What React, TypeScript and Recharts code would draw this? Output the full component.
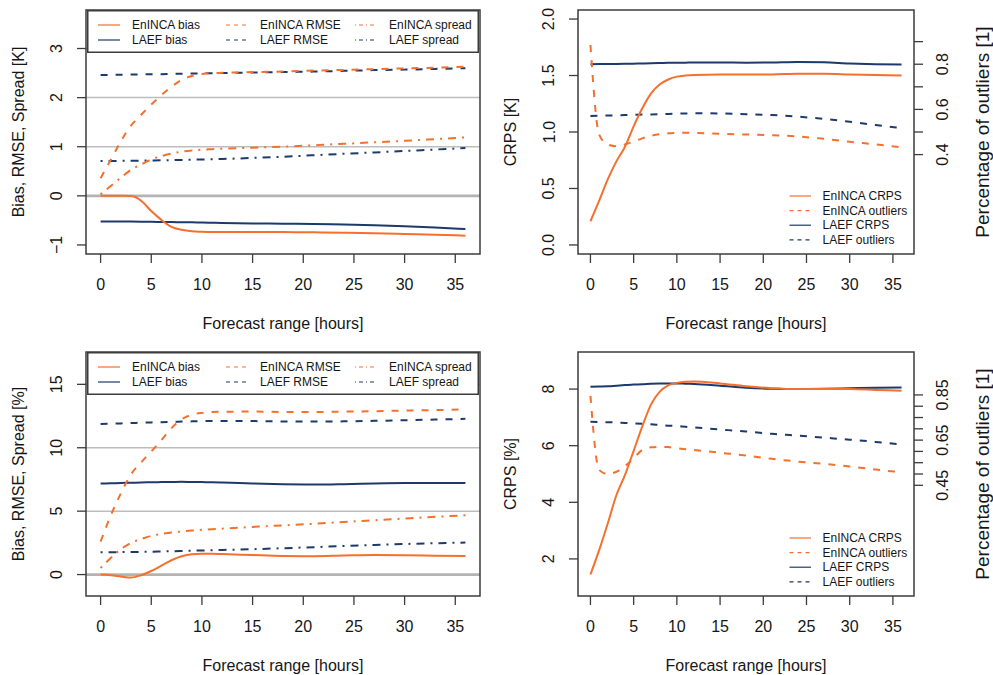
import { LineChart, Line, XAxis, YAxis, CartesianGrid, ReferenceArea, Legend, Label } from 'recharts';

// forecast hours the curves were read at
const hours = [0, 1, 2, 3, 4, 5, 6, 7, 8, 9, 10, 11, 12, 15, 18, 21, 24, 27, 30, 33, 36];
const xTicks = [0, 5, 10, 15, 20, 25, 30, 35];

// top left: bias / RMSE / spread [K]
const enincaBiasK = [0, 0, 0, -0.005, -0.1, -0.31, -0.49, -0.63, -0.69, -0.72, -0.73, -0.735, -0.735, -0.735, -0.737, -0.742, -0.75, -0.76, -0.775, -0.79, -0.81];
const laefBiasK = [-0.52, -0.521, -0.522, -0.524, -0.526, -0.528, -0.531, -0.534, -0.537, -0.54, -0.545, -0.549, -0.553, -0.562, -0.567, -0.573, -0.585, -0.6, -0.62, -0.645, -0.675];
const enincaRmseK = [0.36, 0.73, 1.11, 1.43, 1.65, 1.86, 2.05, 2.22, 2.36, 2.44, 2.48, 2.5, 2.505, 2.52, 2.53, 2.55, 2.565, 2.58, 2.595, 2.61, 2.63];
const laefRmseK = [2.46, 2.463, 2.466, 2.469, 2.472, 2.475, 2.478, 2.482, 2.486, 2.49, 2.494, 2.498, 2.5, 2.51, 2.52, 2.53, 2.545, 2.56, 2.57, 2.585, 2.6];
const enincaSpreadK = [0.03, 0.2, 0.37, 0.53, 0.64, 0.74, 0.81, 0.86, 0.9, 0.925, 0.94, 0.95, 0.96, 0.98, 1.0, 1.03, 1.06, 1.09, 1.12, 1.155, 1.19];
const laefSpreadK = [0.71, 0.71, 0.713, 0.715, 0.717, 0.72, 0.723, 0.727, 0.731, 0.736, 0.741, 0.746, 0.751, 0.772, 0.797, 0.826, 0.856, 0.884, 0.913, 0.943, 0.972];

// top right: CRPS [K] and outliers [1]
const enincaCrpsK = [0.21, 0.39, 0.58, 0.74, 0.87, 1.05, 1.21, 1.34, 1.42, 1.465, 1.49, 1.5, 1.505, 1.51, 1.51, 1.51, 1.515, 1.515, 1.51, 1.505, 1.5];
const laefCrpsK = [1.6, 1.601, 1.602, 1.603, 1.604, 1.605, 1.607, 1.609, 1.61, 1.612, 1.613, 1.614, 1.615, 1.615, 1.614, 1.616, 1.62, 1.617, 1.607, 1.6, 1.597];
const enincaOutK = [0.885, 0.49, 0.445, 0.437, 0.445, 0.458, 0.472, 0.483, 0.49, 0.494, 0.496, 0.497, 0.496, 0.492, 0.489, 0.486, 0.48, 0.47, 0.457, 0.445, 0.432];
const laefOutK = [0.571, 0.572, 0.573, 0.574, 0.575, 0.576, 0.577, 0.578, 0.579, 0.58, 0.581, 0.582, 0.583, 0.582, 0.579, 0.575, 0.568, 0.558, 0.545, 0.531, 0.517];

// bottom left: bias / RMSE / spread [%]
const enincaBiasPct = [0, -0.05, -0.15, -0.24, -0.05, 0.28, 0.7, 1.13, 1.44, 1.6, 1.64, 1.64, 1.62, 1.54, 1.47, 1.45, 1.5, 1.54, 1.53, 1.49, 1.46];
const laefBiasPct = [7.18, 7.2, 7.22, 7.24, 7.26, 7.28, 7.29, 7.3, 7.31, 7.3, 7.29, 7.28, 7.26, 7.18, 7.12, 7.1, 7.13, 7.18, 7.22, 7.23, 7.23];
const enincaRmsePct = [2.6, 4.65, 6.4, 7.9, 8.85, 9.7, 10.6, 11.55, 12.25, 12.6, 12.75, 12.82, 12.84, 12.85, 12.82, 12.82, 12.85, 12.88, 12.93, 12.97, 13.02];
const laefRmsePct = [11.87, 11.9, 11.92, 11.95, 11.97, 12.0, 12.02, 12.04, 12.06, 12.08, 12.1, 12.1, 12.1, 12.1, 12.07, 12.06, 12.08, 12.12, 12.17, 12.22, 12.28];
const enincaSpreadPct = [0.52, 1.3, 2.0, 2.5, 2.8, 3.05, 3.2, 3.32, 3.4, 3.47, 3.53, 3.58, 3.62, 3.76, 3.88, 4.0, 4.15, 4.28, 4.42, 4.55, 4.68];
const laefSpreadPct = [1.75, 1.76, 1.77, 1.78, 1.79, 1.8, 1.82, 1.84, 1.86, 1.88, 1.9, 1.92, 1.94, 2.0, 2.08, 2.16, 2.26, 2.34, 2.41, 2.47, 2.52];

// bottom right: CRPS [%] and outliers [1]
const enincaCrpsPct = [1.45, 2.3, 3.25, 4.25, 4.97, 5.82, 6.68, 7.45, 7.9, 8.13, 8.22, 8.26, 8.27, 8.2, 8.1, 8.03, 8.0, 8.0, 8.0, 7.97, 7.94];
const laefCrpsPct = [8.08, 8.09, 8.1, 8.12, 8.14, 8.16, 8.17, 8.19, 8.2, 8.2, 8.2, 8.19, 8.18, 8.12, 8.05, 8.01, 8.0, 8.01, 8.03, 8.05, 8.06];
const enincaOutPct = [0.846, 0.518, 0.5, 0.51, 0.535, 0.57, 0.607, 0.618, 0.62, 0.619, 0.614, 0.61, 0.606, 0.594, 0.582, 0.567, 0.555, 0.545, 0.533, 0.52, 0.507];
const laefOutPct = [0.731, 0.73, 0.729, 0.728, 0.726, 0.724, 0.722, 0.72, 0.717, 0.714, 0.712, 0.709, 0.706, 0.697, 0.688, 0.678, 0.67, 0.661, 0.652, 0.642, 0.631];

// axis ticks and their printed labels ('' = tick without label)
const biasKTicks = [-1, 0, 1, 2, 3];
const biasKLabels = ['\u22121', '0', '1', '2', '3'];
const crpsKTicks = [0, 0.5, 1, 1.5, 2];
const crpsKLabels = ['0.0', '0.5', '1.0', '1.5', '2.0'];
const outKTicks = [0.4, 0.5, 0.6, 0.7, 0.8, 0.9];
const outKLabels = ['0.4', '', '0.6', '', '0.8', ''];
const biasPctTicks = [0, 5, 10, 15];
const biasPctLabels = ['0', '5', '10', '15'];
const crpsPctTicks = [2, 4, 6, 8];
const crpsPctLabels = ['2', '4', '6', '8'];
const outPctTicks = [0.45, 0.5, 0.55, 0.6, 0.65, 0.7, 0.75, 0.8, 0.85];
const outPctLabels = ['0.45', '', '', '', '0.65', '', '', '', '0.85'];

const errorNames = ['EnINCA bias', 'LAEF bias', 'EnINCA RMSE', 'LAEF RMSE', 'EnINCA spread', 'LAEF spread'];
const crpsNames = ['EnINCA CRPS', 'EnINCA outliers', 'LAEF CRPS', 'LAEF outliers'];

const ORANGE = '#f4702e';
const NAVY = '#1c3a6b';
const INK = '#161616';
const BOX = '#3c3c3c';
const GRID = '#bdbdbd';
const FONT = '"Liberation Sans", Arial, Helvetica, sans-serif';
const X_DOMAIN: [number, number] = [-1.44, 37.44];
const DASH = '7 8';
const DASHDOT = '2 6 8 6';

const topErrData = hours.map((h, i) => ({
  h,
  eBias: enincaBiasK[i], lBias: laefBiasK[i],
  eRmse: enincaRmseK[i], lRmse: laefRmseK[i],
  eSpread: enincaSpreadK[i], lSpread: laefSpreadK[i],
}));
const botErrData = hours.map((h, i) => ({
  h,
  eBias: enincaBiasPct[i], lBias: laefBiasPct[i],
  eRmse: enincaRmsePct[i], lRmse: laefRmsePct[i],
  eSpread: enincaSpreadPct[i], lSpread: laefSpreadPct[i],
}));
const topCrpsData = hours.map((h, i) => ({
  h, eCrps: enincaCrpsK[i], lCrps: laefCrpsK[i], eOut: enincaOutK[i], lOut: laefOutK[i],
}));
const botCrpsData = hours.map((h, i) => ({
  h, eCrps: enincaCrpsPct[i], lCrps: laefCrpsPct[i], eOut: enincaOutPct[i], lOut: laefOutPct[i],
}));

function XTick({ x, y, payload }: any) {
  return (
    <g>
      <line x1={x} x2={x} y1={y} y2={y + 9} stroke={BOX} strokeWidth={1.3} />
      <text x={x} y={y + 30} textAnchor="middle" dominantBaseline="central" fontSize={16} fill={INK} fontFamily={FONT}>
        {payload.value}
      </text>
    </g>
  );
}

function YTick({ x, y, payload, side, ticks, labels }: any) {
  const dir = side === 'left' ? -1 : 1;
  const idx = ticks.findIndex((t: number) => Math.abs(t - payload.value) < 1e-9);
  const label = idx >= 0 ? labels[idx] : '';
  const tx = x + dir * 29;
  return (
    <g>
      <line x1={x} x2={x + dir * 9} y1={y} y2={y} stroke={BOX} strokeWidth={1.3} />
      {label && (
        <text x={tx} y={y} transform={`rotate(-90 ${tx} ${y})`} textAnchor="middle" dominantBaseline="central" fontSize={16} fill={INK} fontFamily={FONT}>
          {label}
        </text>
      )}
    </g>
  );
}

function xTitle(text: string) {
  return ({ viewBox }: any) => (
    <text x={viewBox.x + viewBox.width / 2} y={viewBox.y + 69} textAnchor="middle" dominantBaseline="central" fontSize={16} fill={INK} fontFamily={FONT}>
      {text}
    </text>
  );
}

function yTitle(text: string, side: 'left' | 'right', size: number) {
  return ({ viewBox }: any) => {
    const cx = side === 'left' ? viewBox.x + viewBox.width - 68 : viewBox.x + 68;
    const cy = viewBox.y + viewBox.height / 2;
    return (
      <text x={cx} y={cy} transform={`rotate(-90 ${cx} ${cy})`} textAnchor="middle" dominantBaseline="central" fontSize={size} fill={INK} fontFamily={FONT}>
        {text}
      </text>
    );
  };
}

function BoxLegend() {
  const colX = [11, 139, 268];
  const rowY = [15, 30];
  const dashes = [undefined, '4 4', '1 3 4 3'];
  return (
    <svg width={392} height={43} style={{ display: 'block' }}>
      <rect x={0.75} y={0.75} width={390.5} height={41.5} fill="#fff" stroke={BOX} strokeWidth={1.5} />
      {errorNames.map((name, i) => {
        const col = Math.floor(i / 2);
        const row = i % 2;
        return (
          <g key={name}>
            <line x1={colX[col]} x2={colX[col] + 22} y1={rowY[row]} y2={rowY[row]} stroke={row === 0 ? ORANGE : NAVY} strokeWidth={1.2} strokeDasharray={dashes[col]} />
            <text x={colX[col] + 34} y={rowY[row]} dominantBaseline="central" fontSize={12} fill={INK} fontFamily={FONT}>
              {name}
            </text>
          </g>
        );
      })}
    </svg>
  );
}

function CrpsLegend() {
  const rowY = [11, 25.6, 40.2, 54.8];
  return (
    <svg width={135} height={66} style={{ display: 'block' }}>
      {crpsNames.map((name, i) => (
        <g key={name}>
          <line x1={3.5} x2={25} y1={rowY[i]} y2={rowY[i]} stroke={i < 2 ? ORANGE : NAVY} strokeWidth={1.2} strokeDasharray={i % 2 ? '4 4' : undefined} />
          <text x={36.5} y={rowY[i]} dominantBaseline="central" fontSize={12} fill={INK} fontFamily={FONT}>
            {name}
          </text>
        </g>
      ))}
    </svg>
  );
}

// plot area is always 244 px tall; the x axis band below it is 76 px (top row) or 79 px (bottom row)
function ErrorPanel({ data, height, top, bottom, yDomain, yTicks, yLabels, gridValues, title }: any) {
  return (
    <LineChart width={496} height={height} data={data} margin={{ top, right: 16, bottom, left: 0 }}>
      <CartesianGrid vertical={false} horizontalValues={gridValues} stroke={GRID} strokeWidth={1.5} />
      <CartesianGrid vertical={false} horizontalValues={[0]} stroke="#b3b3b3" strokeWidth={2.8} />
      <XAxis dataKey="h" type="number" domain={X_DOMAIN} allowDataOverflow ticks={xTicks} interval={0} height={height - top - bottom - 244}
        axisLine={false} tickLine={false} tickSize={0} tickMargin={0} tick={(p: any) => <XTick {...p} />}>
        <Label content={xTitle('Forecast range [hours]')} />
      </XAxis>
      <YAxis type="number" domain={yDomain} allowDataOverflow ticks={yTicks} interval={0} width={86}
        axisLine={false} tickLine={false} tickSize={0} tickMargin={0}
        tick={(p: any) => <YTick {...p} side="left" ticks={yTicks} labels={yLabels} />}>
        <Label content={yTitle(title, 'left', 16)} />
      </YAxis>
      <ReferenceArea x1={X_DOMAIN[0]} x2={X_DOMAIN[1]} y1={yDomain[0]} y2={yDomain[1]} fill="none" fillOpacity={0} stroke={BOX} strokeWidth={1.5} />
      <Line dataKey="lBias" type="monotone" stroke={NAVY} strokeWidth={2} dot={false} isAnimationActive={false} />
      <Line dataKey="lRmse" type="monotone" stroke={NAVY} strokeWidth={2} strokeDasharray={DASH} dot={false} isAnimationActive={false} />
      <Line dataKey="lSpread" type="monotone" stroke={NAVY} strokeWidth={2} strokeDasharray={DASHDOT} dot={false} isAnimationActive={false} />
      <Line dataKey="eBias" type="monotone" stroke={ORANGE} strokeWidth={2} dot={false} isAnimationActive={false} />
      <Line dataKey="eRmse" type="monotone" stroke={ORANGE} strokeWidth={2} strokeDasharray={DASH} dot={false} isAnimationActive={false} />
      <Line dataKey="eSpread" type="monotone" stroke={ORANGE} strokeWidth={2} strokeDasharray={DASHDOT} dot={false} isAnimationActive={false} />
      <Legend verticalAlign="middle" align="center" layout="horizontal"
        wrapperStyle={{ left: 87, top, width: 392, height: 43, lineHeight: 0 }} content={() => <BoxLegend />} />
    </LineChart>
  );
}

function CrpsPanel({ data, height, top, bottom, yDomain, yTicks, yLabels, rTicks, rLabels, title, legendTop }: any) {
  const rDomain: [number, number] = [-0.04, 1.04];
  return (
    <LineChart width={497} height={height} data={data} margin={{ top, right: 0, bottom, left: 0 }}>
      <XAxis dataKey="h" type="number" domain={X_DOMAIN} allowDataOverflow ticks={xTicks} interval={0} height={height - top - bottom - 244}
        axisLine={false} tickLine={false} tickSize={0} tickMargin={0} tick={(p: any) => <XTick {...p} />}>
        <Label content={xTitle('Forecast range [hours]')} />
      </XAxis>
      <YAxis yAxisId="left" type="number" domain={yDomain} allowDataOverflow ticks={yTicks} interval={0} width={82}
        axisLine={false} tickLine={false} tickSize={0} tickMargin={0}
        tick={(p: any) => <YTick {...p} side="left" ticks={yTicks} labels={yLabels} />}>
        <Label content={yTitle(title, 'left', 16)} />
      </YAxis>
      <YAxis yAxisId="right" orientation="right" type="number" domain={rDomain} allowDataOverflow ticks={rTicks} interval={0} width={79}
        axisLine={false} tickLine={false} tickSize={0} tickMargin={0}
        tick={(p: any) => <YTick {...p} side="right" ticks={rTicks} labels={rLabels} />}>
        <Label content={yTitle('Percentage of outliers [1]', 'right', 19)} />
      </YAxis>
      <ReferenceArea yAxisId="left" x1={X_DOMAIN[0]} x2={X_DOMAIN[1]} y1={yDomain[0]} y2={yDomain[1]} fill="none" fillOpacity={0} stroke={BOX} strokeWidth={1.5} />
      <Line yAxisId="left" dataKey="lCrps" type="monotone" stroke={NAVY} strokeWidth={2} dot={false} isAnimationActive={false} />
      <Line yAxisId="right" dataKey="lOut" type="monotone" stroke={NAVY} strokeWidth={2} strokeDasharray={DASH} dot={false} isAnimationActive={false} />
      <Line yAxisId="left" dataKey="eCrps" type="monotone" stroke={ORANGE} strokeWidth={2} dot={false} isAnimationActive={false} />
      <Line yAxisId="right" dataKey="eOut" type="monotone" stroke={ORANGE} strokeWidth={2} strokeDasharray={DASH} dot={false} isAnimationActive={false} />
      <Legend verticalAlign="middle" align="center" layout="horizontal"
        wrapperStyle={{ left: 290, top: legendTop, width: 135, height: 66, lineHeight: 0 }} content={() => <CrpsLegend />} />
    </LineChart>
  );
}

export default function App() {
  return (
    <div style={{ position: 'absolute', left: 0, top: 0, width: 993, height: 675, background: '#fff', overflow: 'hidden', fontFamily: FONT }}>
      <div style={{ position: 'absolute', left: 0, top: 0 }}>
        <ErrorPanel data={topErrData} height={345} top={10} bottom={15} yDomain={[-1.184, 3.784]} yTicks={biasKTicks} yLabels={biasKLabels}
          gridValues={[1, 2, 3]} title="Bias, RMSE, Spread [K]" />
      </div>
      <div style={{ position: 'absolute', left: 496, top: 0 }}>
        <CrpsPanel data={topCrpsData} height={345} top={10} bottom={15} yDomain={[-0.08, 2.08]} yTicks={crpsKTicks} yLabels={crpsKLabels}
          rTicks={outKTicks} rLabels={outKLabels} title="CRPS [K]" legendTop={185} />
      </div>
      <div style={{ position: 'absolute', left: 0, top: 330 }}>
        <ErrorPanel data={botErrData} height={345} top={22} bottom={0} yDomain={[-1.69, 17.55]} yTicks={biasPctTicks} yLabels={biasPctLabels}
          gridValues={[5, 10, 15]} title="Bias, RMSE, Spread [%]" />
      </div>
      <div style={{ position: 'absolute', left: 496, top: 330 }}>
        <CrpsPanel data={botCrpsData} height={345} top={22} bottom={0} yDomain={[0.69, 9.31]} yTicks={crpsPctTicks} yLabels={crpsPctLabels}
          rTicks={outPctTicks} rLabels={outPctLabels} title="CRPS [%]" legendTop={196.7} />
      </div>
    </div>
  );
}
